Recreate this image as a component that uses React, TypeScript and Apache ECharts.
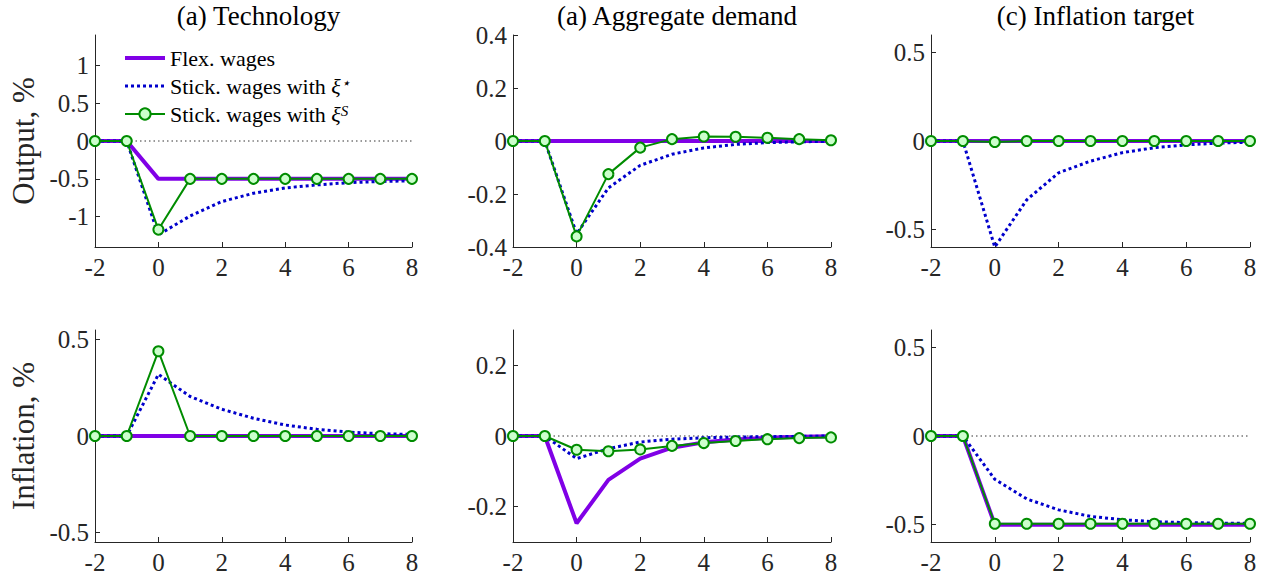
import React, { useEffect, useRef } from "react";
import * as echarts from "echarts";

const periods = [-2, -1, 0, 1, 2, 3, 4, 5, 6, 7, 8];
const zeroLine = [0, 0, 0, 0, 0, 0, 0, 0, 0, 0, 0];

const seriesNames = ["Flex. wages", "Stick. wages with ξ⋆", "Stick. wages with ξS"];
const panelTitles = ["(a) Technology", "(a) Aggregate demand", "(c) Inflation target"];
const rowNames = ["Output, %", "Inflation, %"];

// Output responses
const techOutFlex = [0, 0, -0.5, -0.5, -0.5, -0.5, -0.5, -0.5, -0.5, -0.5, -0.5];
const techOutStar = [0, 0, -1.24, -0.99, -0.8, -0.69, -0.62, -0.58, -0.55, -0.535, -0.525];
const techOutS = [0, 0, -1.17, -0.5, -0.5, -0.5, -0.5, -0.5, -0.5, -0.5, -0.5];

const adOutFlex = [0, 0, 0, 0, 0, 0, 0, 0, 0, 0, 0];
const adOutStar = [0, 0, -0.35, -0.177, -0.092, -0.05, -0.026, -0.013, -0.006, -0.003, -0.001];
const adOutS = [0, 0, -0.36, -0.125, -0.025, 0.007, 0.017, 0.016, 0.012, 0.007, 0.003];

const itOutFlex = [0, 0, 0, 0, 0, 0, 0, 0, 0, 0, 0];
const itOutStar = [0, 0, -0.6, -0.333, -0.18, -0.114, -0.066, -0.038, -0.022, -0.012, -0.007];
const itOutS = [0, 0, -0.006, 0, 0, 0, 0, 0, 0, 0, 0];

// Inflation responses
const techInfFlex = [0, 0, 0, 0, 0, 0, 0, 0, 0, 0, 0];
const techInfStar = [0, 0, 0.32, 0.205, 0.139, 0.092, 0.057, 0.035, 0.02, 0.012, 0.008];
const techInfS = [0, 0, 0.44, 0, 0, 0, 0, 0, 0, 0, 0];

const adInfFlex = [0, 0, -0.247, -0.124, -0.064, -0.033, -0.018, -0.01, -0.005, -0.002, -0.001];
const adInfStar = [0, 0, -0.064, -0.036, -0.017, -0.009, -0.005, -0.003, -0.002, -0.001, 0];
const adInfS = [0, 0, -0.039, -0.043, -0.038, -0.028, -0.02, -0.014, -0.009, -0.006, -0.004];

const itInfFlex = [0, 0, -0.502, -0.502, -0.502, -0.502, -0.502, -0.502, -0.502, -0.502, -0.502];
const itInfStar = [0, 0, -0.245, -0.356, -0.418, -0.455, -0.474, -0.485, -0.49, -0.493, -0.495];
const itInfS = [0, 0, -0.497, -0.497, -0.497, -0.497, -0.497, -0.497, -0.497, -0.497, -0.497];

const yRanges = [
  [-1.4, 1.4],
  [-0.4, 0.4],
  [-0.6, 0.6],
  [-0.55, 0.55],
  [-0.3, 0.3],
  [-0.6, 0.6],
];
const yTicks = [
  [-1, -0.5, 0, 0.5, 1],
  [-0.4, -0.2, 0, 0.2, 0.4],
  [-0.5, 0, 0.5],
  [-0.5, 0, 0.5],
  [-0.2, 0, 0.2],
  [-0.5, 0, 0.5],
];

const panelData = [
  [techOutFlex, techOutStar, techOutS],
  [adOutFlex, adOutStar, adOutS],
  [itOutFlex, itOutStar, itOutS],
  [techInfFlex, techInfStar, techInfS],
  [adInfFlex, adInfStar, adInfS],
  [itInfFlex, itInfStar, itInfS],
];

const FONT = "Liberation Serif";
const AXIS = "#262626";
const PURPLE = "#8000e6";
const BLUE = "#0000cc";
const GREEN = "#008c00";
const FILL = "#ccffcc";

export default function App() {
  const ref = useRef<HTMLDivElement>(null);

  useEffect(() => {
    if (!ref.current) return;
    const chart = echarts.init(ref.current, undefined, { renderer: "svg" });

    const lefts = [95, 513, 931];
    const widths = [317, 318, 319];
    const tops = [35, 330];
    const H = 212;

    const grids: any[] = [];
    const xAxes: any[] = [];
    const yAxes: any[] = [];
    const series: any[] = [];
    const titles: any[] = [];

    for (let r = 0; r < 2; r++) {
      for (let c = 0; c < 3; c++) {
        const i = r * 3 + c;
        grids.push({ left: lefts[c], top: tops[r], width: widths[c], height: H });
        xAxes.push({
          type: "value",
          gridIndex: i,
          min: -2,
          max: 8,
          interval: 2,
          axisLine: { show: true, onZero: false, lineStyle: { color: AXIS, width: 1 } },
          axisTick: { show: true, inside: true, length: 5, lineStyle: { color: AXIS } },
          axisLabel: { color: AXIS, fontFamily: FONT, fontSize: 25, margin: 8 },
          splitLine: { show: false },
        });
        yAxes.push({
          type: "value",
          gridIndex: i,
          min: yRanges[i][0],
          max: yRanges[i][1],
          name: c === 0 ? rowNames[r] : "",
          nameLocation: "middle",
          nameGap: 56,
          nameTextStyle: { color: AXIS, fontFamily: FONT, fontSize: 31 },
          axisLine: { show: true, onZero: false, lineStyle: { color: AXIS, width: 1 } },
          axisTick: {
            show: true,
            inside: true,
            length: 5,
            customValues: yTicks[i],
            lineStyle: { color: AXIS },
          },
          axisLabel: {
            color: AXIS,
            fontFamily: FONT,
            fontSize: 25,
            margin: 6,
            customValues: yTicks[i],
          },
          splitLine: { show: false },
        });

        const toPts = (arr: number[]) => periods.map((p, k) => [p, arr[k]]);

        series.push({
          type: "line",
          xAxisIndex: i,
          yAxisIndex: i,
          data: toPts(zeroLine),
          showSymbol: false,
          symbol: "none",
          silent: true,
          z: 1,
          lineStyle: { color: "#333", width: 1, type: [1.5, 3] },
        });
        const [flex, star, sS] = panelData[i];
        series.push({
          name: seriesNames[0],
          type: "line",
          xAxisIndex: i,
          yAxisIndex: i,
          data: toPts(flex),
          symbol: "none",
          silent: true,
          z: 2,
          color: PURPLE,
          lineStyle: { color: PURPLE, width: 4 },
        });
        series.push({
          name: seriesNames[1],
          type: "line",
          xAxisIndex: i,
          yAxisIndex: i,
          data: toPts(star),
          symbol: "none",
          silent: true,
          z: 3,
          color: BLUE,
          lineStyle: { color: BLUE, width: 3, type: [3, 3] },
        });
        series.push({
          name: seriesNames[2],
          type: "line",
          xAxisIndex: i,
          yAxisIndex: i,
          data: toPts(sS),
          symbol: "circle",
          symbolSize: 10,
          showSymbol: true,
          showAllSymbol: true,
          silent: true,
          z: 4,
          color: GREEN,
          lineStyle: { color: GREEN, width: 2 },
          itemStyle: { color: FILL, borderColor: GREEN, borderWidth: 2 },
        });
      }
    }

    for (let c = 0; c < 3; c++) {
      titles.push({
        text: panelTitles[c],
        left: lefts[c] + widths[c] / 2,
        top: -3,
        textAlign: "center",
        textStyle: { fontFamily: FONT, fontSize: 27, fontWeight: "normal", color: "#000" },
      });
    }

    chart.setOption({
      animation: false,
      textStyle: { fontFamily: FONT },
      title: titles,
      grid: grids,
      xAxis: xAxes,
      yAxis: yAxes,
      series,
      legend: {
        data: [
          { name: seriesNames[0], itemStyle: { opacity: 0 }, lineStyle: { width: 4 } },
          { name: seriesNames[1], itemStyle: { opacity: 0 }, lineStyle: { width: 3 } },
          { name: seriesNames[2] },
        ],
        orient: "vertical",
        left: 118,
        top: 42,
        itemWidth: 40,
        itemHeight: 14,
        itemGap: 6,
        selectedMode: false,
        formatter: (name: string) => {
          if (name === seriesNames[1]) return "{n|Stick. wages with }{xi|ξ}{sup|⋆}";
          if (name === seriesNames[2]) return "{n|Stick. wages with }{xi|ξ}{sup|S}";
          return "{n|" + name + "}";
        },
        textStyle: {
          color: "#000",
          fontFamily: FONT,
          fontSize: 22,
          rich: {
            n: { fontFamily: FONT, fontSize: 22, color: "#000", lineHeight: 22 },
            xi: { fontFamily: FONT, fontSize: 22, color: "#000", fontStyle: "italic", lineHeight: 22 },
            sup: {
              fontFamily: FONT,
              fontSize: 15,
              color: "#000",
              fontStyle: "italic",
              verticalAlign: "top",
              lineHeight: 22,
            },
          },
        },
      },
    });

    return () => chart.dispose();
  }, []);

  return (
    <div
      ref={ref}
      style={{ position: "fixed", left: 0, top: 0, width: 1268, height: 581, background: "#fff" }}
    />
  );
}
